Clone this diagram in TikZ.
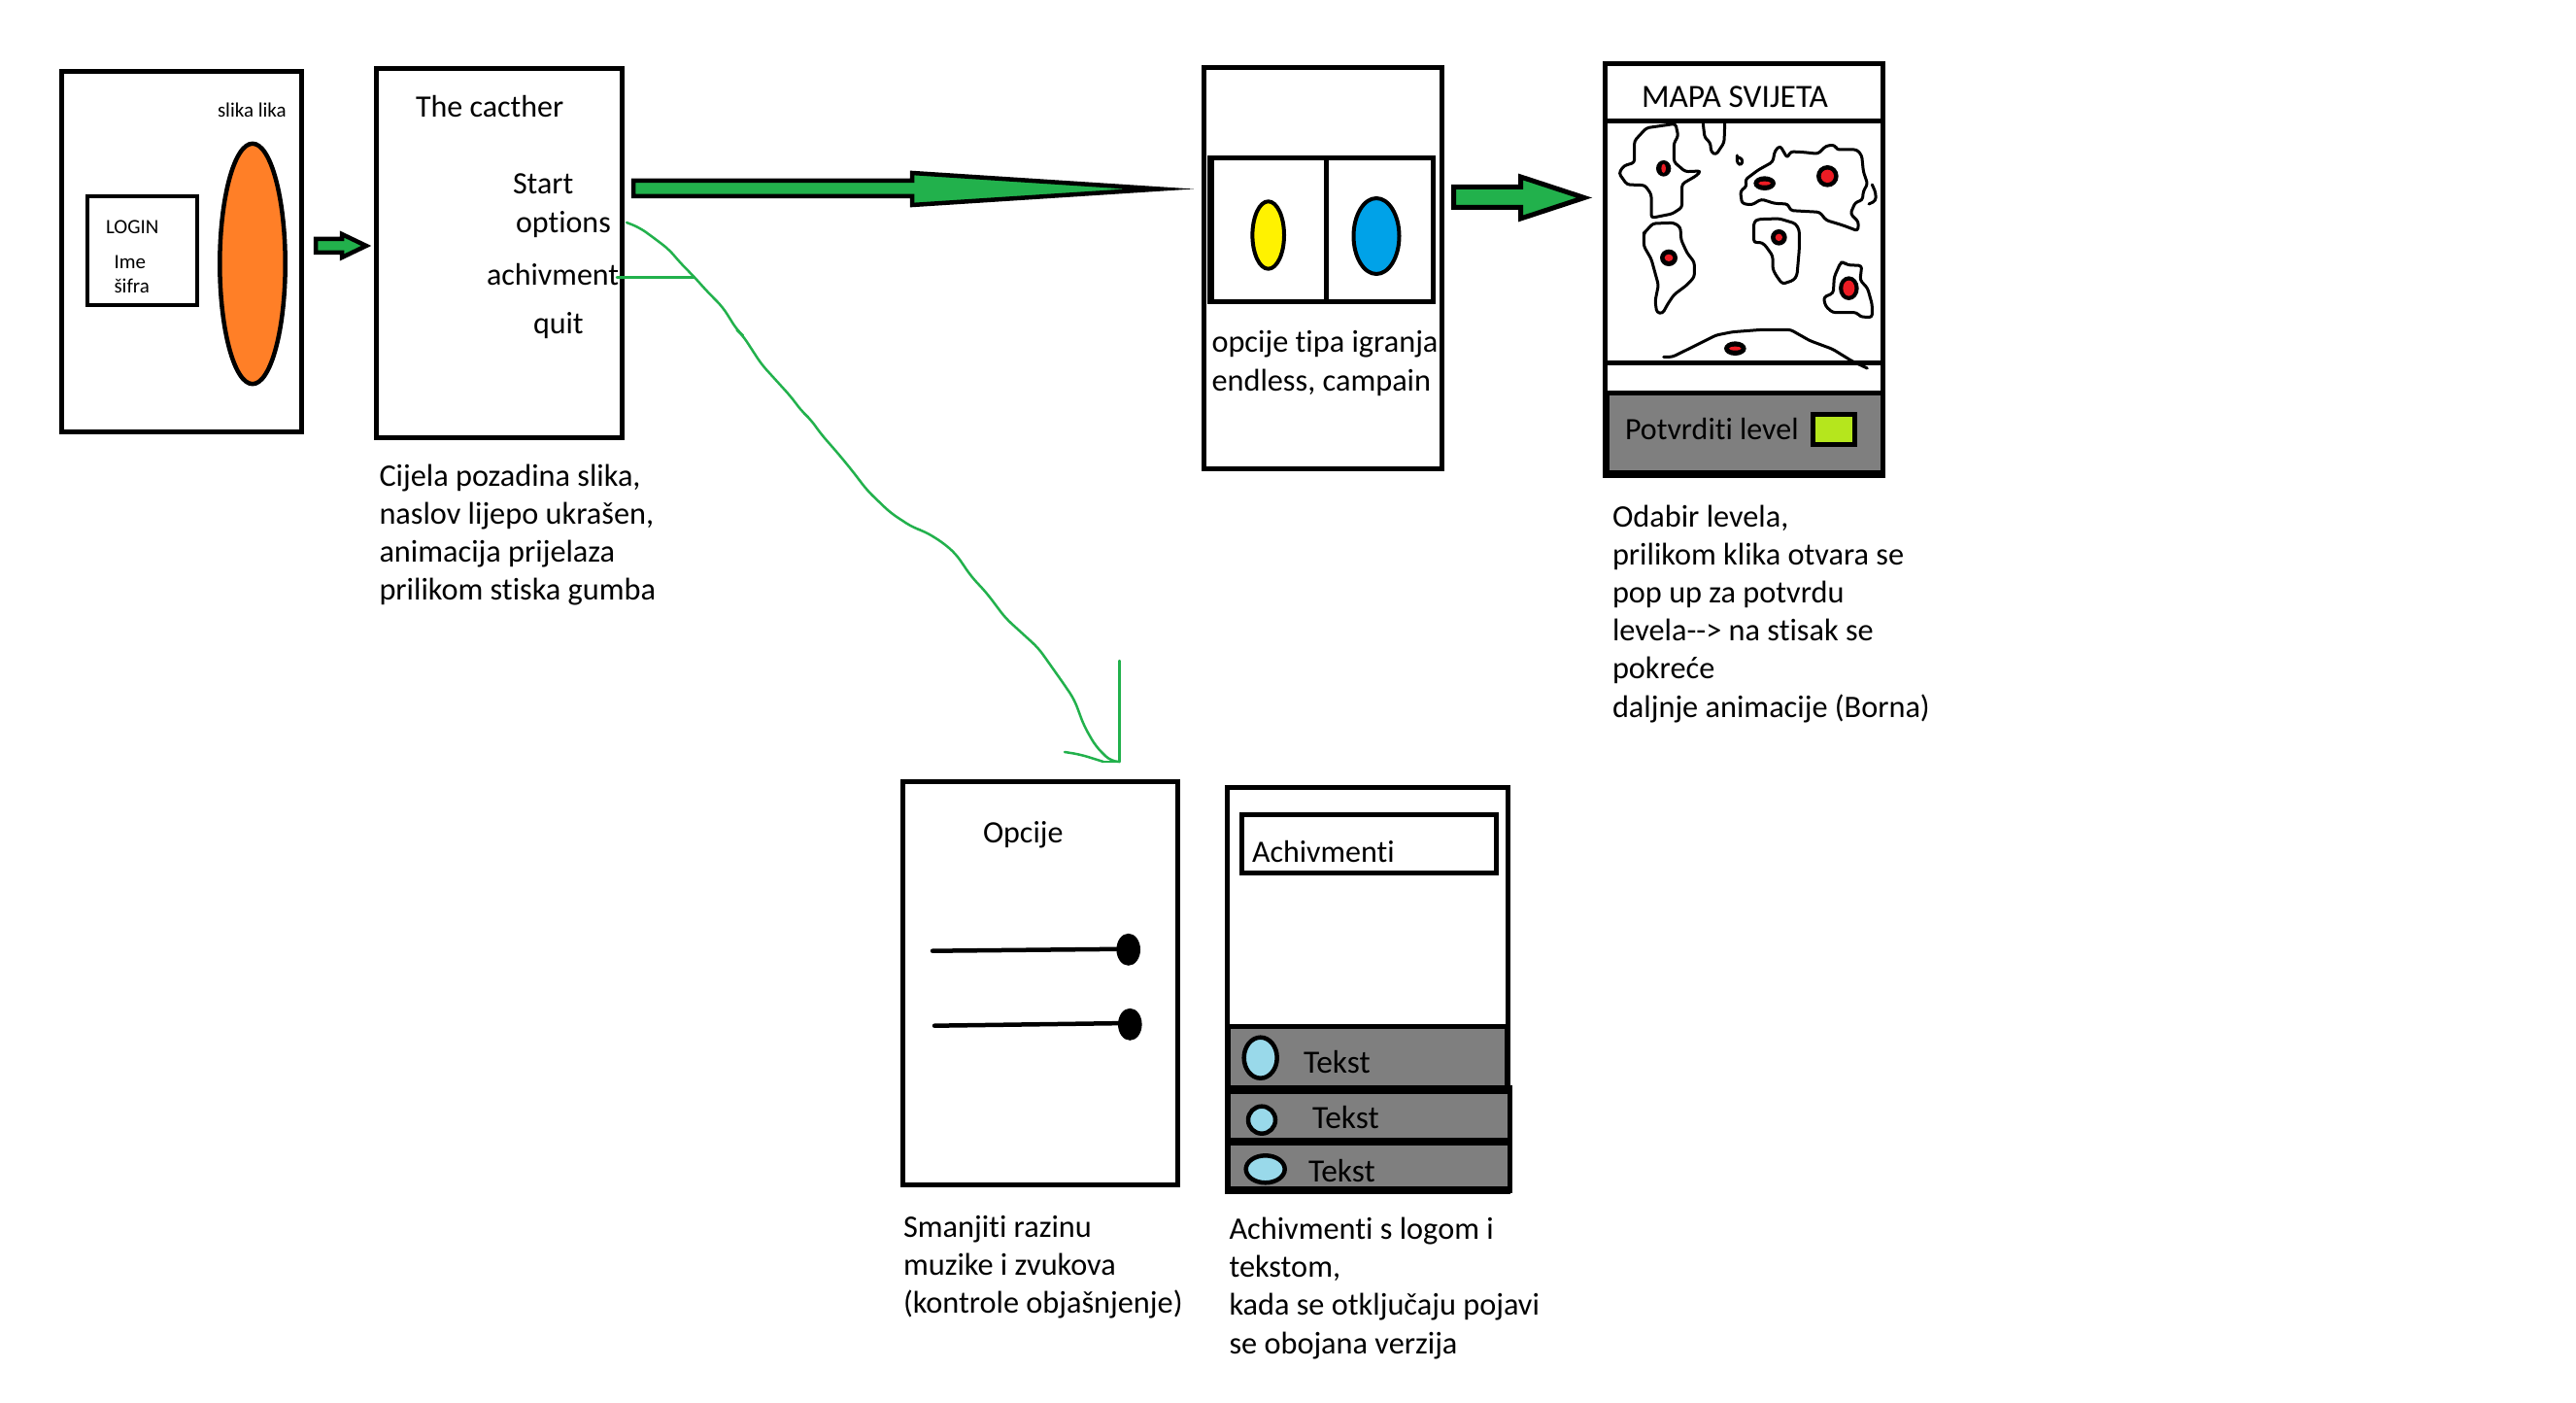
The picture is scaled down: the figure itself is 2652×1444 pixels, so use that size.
\documentclass[tikz,border=0pt]{standalone}
\usepackage{fontspec}
\setmainfont{Carlito}[Ligatures={NoCommon}]
\usetikzlibrary{fit}
\definecolor{pgreen}{HTML}{22B14C}
\definecolor{porange}{HTML}{FF7F27}
\definecolor{pyellow}{HTML}{FFF200}
\definecolor{pblue}{HTML}{00A2E8}
\definecolor{plime}{HTML}{B5E61D}
\definecolor{pred}{HTML}{ED1C24}
\definecolor{pgray}{HTML}{7F7F7F}
\definecolor{plight}{HTML}{99D9EA}
\tikzset{
  frame/.style={draw=black,line width=2.5pt,inner sep=0pt,outer sep=0pt,fill=white},
  panel/.style={draw=none,fill=pgray,inner sep=0pt,outer sep=0pt},
  blackpanel/.style={draw=none,fill=black,inner sep=0pt,outer sep=0pt},
  big/.style={font=\fontsize{16}{16}\selectfont,anchor=base west,inner sep=0pt,outer sep=0pt},
  wide/.style={font=\fontsize{16.7}{16.7}\selectfont,anchor=base west,inner sep=0pt,outer sep=0pt},
  small/.style={font=\fontsize{10.5}{10.5}\selectfont,anchor=base west,inner sep=0pt,outer sep=0pt},
  capt/.style={font=\fontsize{16.15}{19.6}\selectfont,anchor=north west,align=left,inner sep=0pt,outer sep=0pt},
  blockarrow/.style={draw=black,fill=pgreen,line join=miter,miter limit=20},
  thin/.style={draw=pgreen,line width=1.25pt,line join=round,line cap=round},
  contour/.style={draw=black,line width=1.5pt,line join=round,line cap=round,rounded corners=1.5pt},
}
\newcommand{\firstline}{\rule{0pt}{12pt}}
\begin{document}
\begin{tikzpicture}[x=0.5pt,y=-0.5pt]
\useasboundingbox (0,0) rectangle (2652,1444);
\fill[white] (0,0) rectangle (2652,1444);

% --- login screen
\node[frame,fit={(63.5,73.5)(310.5,445)}] (login) {};
\node[frame,line width=2.25pt,fit={(90,202)(203,314)}] (loginbox) {};
\draw[line width=2.25pt,fill=porange] (260,271.5) ellipse [x radius=33.7,y radius=123.7];
\node[small] (tslika) at (224,121) {slika lika};
\node[small] (tlogin) at (109,240.5) {LOGIN};
\node[small] (time) at (117.5,277) {Ime};
\node[small] (tsifra) at (117.5,301.5) {šifra};

% --- arrow 1
\draw[blockarrow,line width=2.25pt] (325,246) -- (352,246) -- (352,241) -- (377,253) -- (352,265) -- (352,260) -- (325,260) -- cycle;

% --- main menu
\node[frame,fit={(387.5,70.5)(640,451)}] (menu) {};
\node[big] (ttitle) at (428,121) {The cacther};
\node[big] (tstart) at (528,200) {Start};
\node[big] (toptions) at (531,240) {options};
\node[big] (tachiv) at (501,294) {achivment};
\node[big] (tquit) at (549,344) {quit};
\node[capt] (capmenu) at (390.5,476) {\firstline Cijela pozadina slika,\\naslov lijepo ukrašen,\\animacija prijelaza\\prilikom stiska gumba};

% --- arrow 2 (long)
\draw[blockarrow,line width=2.25pt] (652,186) -- (939,186) -- (939,178) -- (1194,194.5) -- (939,211) -- (939,202) -- (652,202) -- cycle;

% --- game mode screen
\node[frame,fit={(1239.5,69.5)(1484.5,482.5)}] (mode) {};
\node[frame,fit={(1246,162.5)(1475.5,310.5)}] (modebox) {};
\fill[black] (1243,160) rectangle (1250,313);
\draw[line width=2.5pt] (1365.5,162.5) -- (1365.5,310.5);
\draw[line width=2pt,fill=pyellow] (1305.7,242) ellipse [x radius=16.3,y radius=34.7];
\draw[line width=2pt,fill=pblue] (1417,243) ellipse [x radius=23.5,y radius=39];
\node[capt] (capmode) at (1247.5,339) {\firstline opcije tipa igranja,\\endless, campain};

% --- arrow 3
\draw[blockarrow,line width=2.5pt] (1496.5,192.5) -- (1565.5,192.5) -- (1565.5,182) -- (1631,203.5) -- (1565.5,225) -- (1565.5,213.5) -- (1496.5,213.5) -- cycle;

% --- map screen
\node[frame,fit={(1652.5,65.5)(1938.5,490)}] (map) {};
\draw[line width=2.5pt] (1650,124.5) -- (1941,124.5);
\draw[line width=2.5pt] (1650,373.5) -- (1941,373.5);
\node[blackpanel,fit={(1650,402)(1941,492)}] (mapbar) {};
\node[panel,fit={(1657,407)(1936,484)}] (mapconfirm) {};
\node[frame,fill=plime,fit={(1866.5,426.5)(1909.5,457.5)}] (mapok) {};
\node[wide] (tmap) at (1690,111) {MAPA SVIJETA};
\node[big] (tpot) at (1673,453) {Potvrditi level};
\begin{scope}[shift={(1640,50)},x=0.16667pt,y=-0.16667pt]
 \draw[contour] (180,523) -- (180,450) -- (160,422) -- (105,420) -- (80,385) -- (95,362) -- (128,352) -- (128,285) -- (165,245) -- (255,232) -- (263,270) -- (250,292) -- (250,350) -- (285,380) -- (333,378) -- (320,392) -- (275,418) -- (275,490) -- (245,510) -- cycle;
 \draw[contour] (340,232) -- (345,275) -- (362,290) -- (365,320) -- (380,328) -- (405,290) -- (407,232);
 \draw[contour] (445,330) -- (445,355) -- (460,360) -- (462,340) -- (445,335);
 \draw[contour] (470,405) -- (510,375) -- (555,350) -- (562,315) -- (578,300) -- (600,338) -- (610,318) -- (650,320) -- (695,325) -- (720,300) -- (748,298) -- (752,312) -- (815,312) -- (830,330) -- (835,380) -- (848,418) -- (835,440) -- (832,468) -- (810,475) -- (795,510) -- (820,535) -- (818,563) -- (770,545) -- (720,530) -- (700,505) -- (610,500) -- (602,480) -- (560,478) -- (520,465) -- (490,483) -- (460,478) -- (455,440) -- (475,425) -- cycle;
 \draw[contour] (862,420) -- (873,445) -- (873,470) -- (852,480);
 \draw[contour] (162,565) -- (185,540) -- (250,538) -- (270,552) -- (272,590) -- (290,630) -- (313,660) -- (313,705) -- (290,730) -- (250,760) -- (230,790) -- (215,818) -- (197,815) -- (192,780) -- (202,730) -- (180,650) -- (157,610) -- (157,570) -- cycle;
 \draw[contour] (497,535) -- (510,527) -- (575,525) -- (625,540) -- (637,560) -- (637,620) -- (630,700) -- (620,715) -- (585,727) -- (565,700) -- (555,680) -- (555,640) -- (530,605) -- (515,597) -- (497,600) -- cycle;
 \draw[contour] (765,660) -- (745,705) -- (742,755) -- (712,768) -- (718,795) -- (740,815) -- (815,815) -- (825,828) -- (862,830) -- (862,790) -- (848,740) -- (825,715) -- (830,670) -- (785,668) -- (775,660) -- cycle;
 \draw[contour] (218,952) -- (245,952) -- (300,925) -- (380,885) -- (430,875) -- (520,868) -- (610,868) -- (670,902) -- (740,928) -- (800,965) -- (847,987);
 \fill[black] (218,370) ellipse [x radius=23,y radius=25];
 \fill[pred] (218,370) ellipse [x radius=7,y radius=14];
 \fill[black] (530,416) ellipse [x radius=34,y radius=22];
 \fill[pred] (530,416) ellipse [x radius=19,y radius=6];
 \fill[black] (724,394) ellipse [x radius=34,y radius=34];
 \fill[pred] (724,394) ellipse [x radius=20,y radius=20];
 \fill[black] (574,583) ellipse [x radius=25,y radius=25];
 \fill[pred] (574,583) ellipse [x radius=11,y radius=11];
 \fill[black] (234,646) ellipse [x radius=27,y radius=26];
 \fill[pred] (234,646) ellipse [x radius=13,y radius=11];
 \fill[black] (790,740) ellipse [x radius=31,y radius=37];
 \fill[pred] (790,740) ellipse [x radius=18,y radius=24];
 \fill[black] (439,926) ellipse [x radius=34,y radius=22];
 \fill[pred] (439,926) ellipse [x radius=19,y radius=6];
\end{scope}
\node[capt] (capmap) at (1660,518) {\firstline Odabir levela,\\prilikom klika otvara se\\pop up za potvrdu\\levela-{}-> na stisak se\\pokreće\\daljnje animacije (Borna)};

% --- options screen
\node[frame,fit={(929.5,804.5)(1212.5,1219.5)}] (opts) {};
\node[big] (topc) at (1012,867) {Opcije};
\draw[line width=2.25pt,line cap=round] (960,978.7) -- (1162,976.7);
\fill[black] (1161.7,977.3) ellipse [x radius=12.3,y radius=16.5];
\draw[line width=2.25pt,line cap=round] (962,1055.7) -- (1163,1053);
\fill[black] (1163.3,1054.3) ellipse [x radius=12.3,y radius=16.5];
\node[capt] (capopts) at (930,1249.5) {\firstline Smanjiti razinu\\muzike i zvukova\\(kontrole objašnjenje)};

% --- achievements screen
\node[frame,fit={(1263.5,810.5)(1552.5,1226)}] (ach) {};
\node[frame,fit={(1278.5,838.5)(1540.5,898.5)}] (achhead) {};
\node[big] (tach) at (1289,887) {Achivmenti};
\node[blackpanel,fit={(1261,1054)(1555,1117)}] (barA) {};
\node[blackpanel,fit={(1261,1117)(1557,1228)}] (barB) {};
\node[panel,fit={(1267,1059)(1549,1117)}] (rowA) {};
\node[panel,fit={(1267,1126)(1552,1171)}] (rowB) {};
\node[panel,fit={(1267,1179)(1552,1221)}] (rowC) {};
\draw[line width=2.25pt,fill=plight] (1297.7,1088.7) ellipse [x radius=17,y radius=21];
\draw[line width=2.25pt,fill=plight] (1299,1152.7) ellipse [x radius=14,y radius=14];
\draw[line width=2.25pt,fill=plight] (1302.7,1203.3) ellipse [x radius=20,y radius=14];
\node[wide] (ttA) at (1342,1104) {Tekst};
\node[wide] (ttB) at (1351,1161) {Tekst};
\node[wide] (ttC) at (1347,1216) {Tekst};
\node[capt] (capach) at (1265.5,1251.5) {\firstline Achivmenti s logom i\\tekstom,\\kada se otključaju pojavi\\se obojana verzija};

% --- thin green hand-drawn connector
\coordinate (optfrom) at (645,229);
\coordinate (achfrom) at (635,285.4);
\coordinate (join) at (715,285.4);
\coordinate (tipA) at (1152.6,680);
\coordinate (tip) at (1152.6,784);
\coordinate (tipB) at (1096,774);
\draw[thin] (achfrom) -- (join);
\draw[thin,rounded corners=4pt] (optfrom) -- (658,234) -- (672,244) -- (689,257) -- (699,269) -- (join) -- (729,301) -- (744,316) -- (759,340) -- (764.5,345) -- (784,375) -- (814,408) -- (826,424) -- (834,431) -- (845.5,447) -- (863,467) -- (877,484) -- (893,505) -- (917,528) -- (940,543) -- (952,547) -- (970,558) -- (984,570) -- (1000,593.5) -- (1015.5,610) -- (1035,636) -- (1069,667) -- (1094.5,703) -- (1106,720) -- (1116,747) -- (1128,768) -- (1144,784) -- (tip);
\draw[thin] (tipA) -- (tip) -- (1136,784);
\draw[thin,rounded corners=4pt] (1136,784) -- (1112,776.5) -- (tipB);
\end{tikzpicture}
\end{document}
